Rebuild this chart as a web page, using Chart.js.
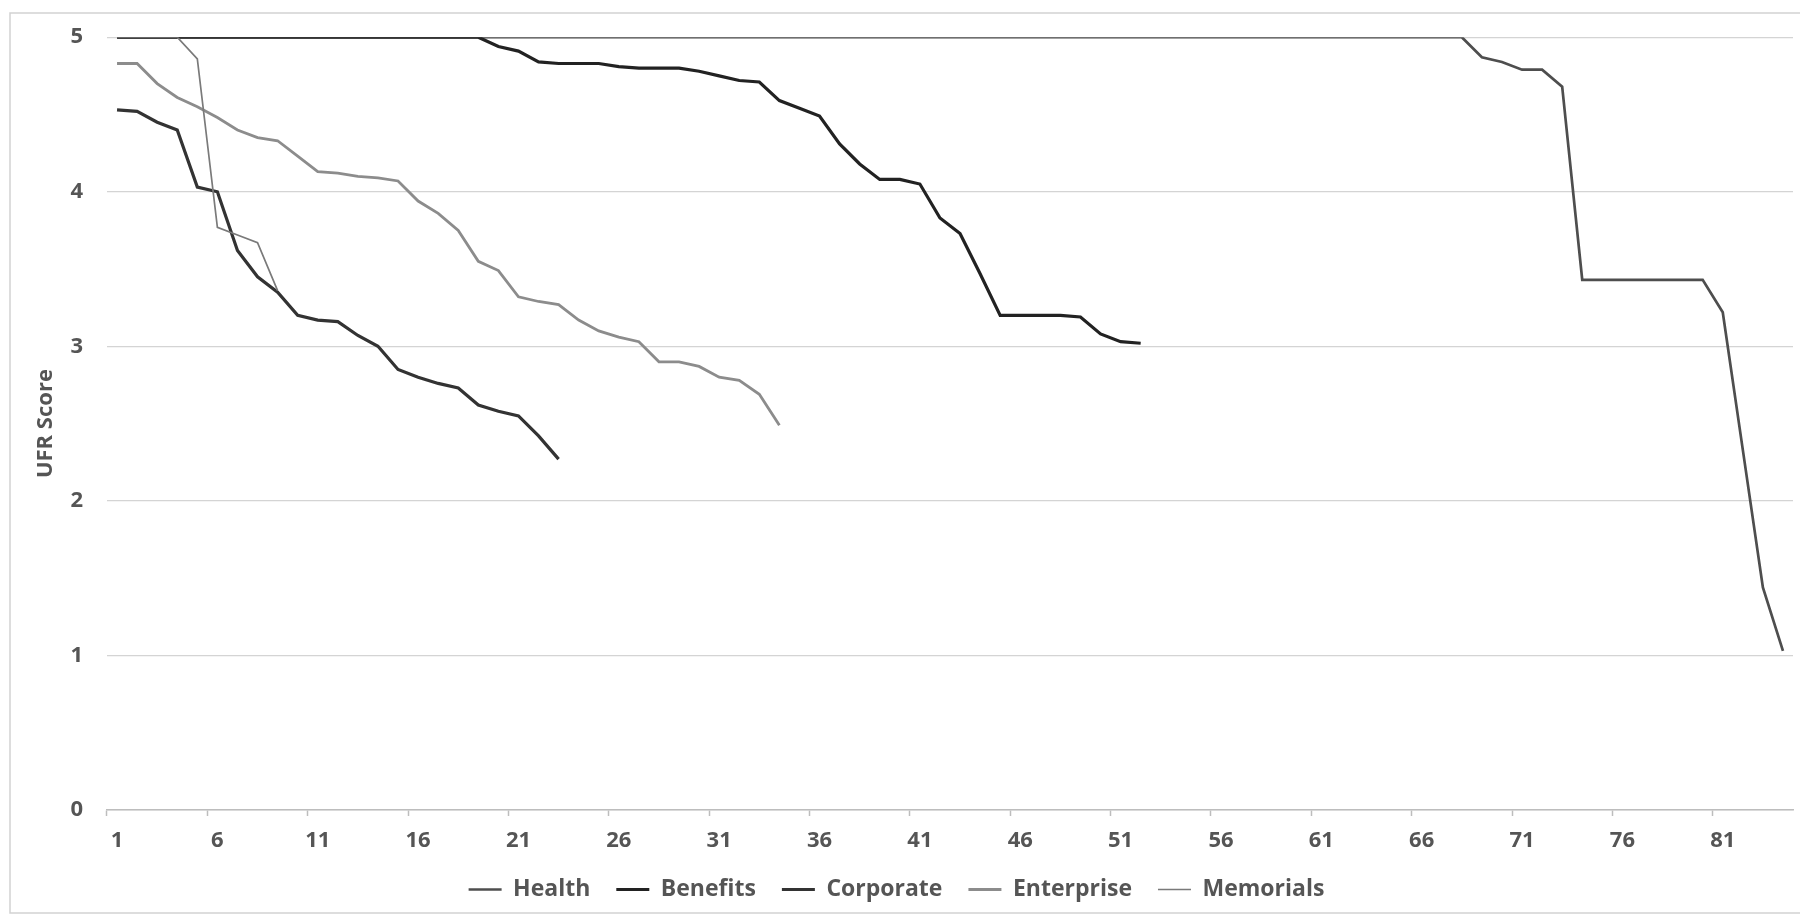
<!DOCTYPE html>
<html>
<head>
<meta charset="utf-8">
<script src="https://cdn.jsdelivr.net/npm/chart.js@4/dist/chart.umd.min.js"></script>
<style>
  html, body { margin: 0; padding: 0; background: #fff; overflow: hidden; }
  #wrap { width: 1800px; height: 923px; }
</style>
</head>
<body>
<div id="wrap"><canvas id="ctx" width="1800" height="923"></canvas></div>
<script>
// categories 1..84 (respondent rank)
const categories = [];
for (let i = 1; i <= 84; i++) categories.push(String(i));

const yTicks = [0, 1, 2, 3, 4, 5];

const health = [
  5, 5, 5, 5, 5, 5, 5, 5, 5, 5,
  5, 5, 5, 5, 5, 5, 5, 5, 5, 5,
  5, 5, 5, 5, 5, 5, 5, 5, 5, 5,
  5, 5, 5, 5, 5, 5, 5, 5, 5, 5,
  5, 5, 5, 5, 5, 5, 5, 5, 5, 5,
  5, 5, 5, 5, 5, 5, 5, 5, 5, 5,
  5, 5, 5, 5, 5, 5, 5, 5, 4.87, 4.84,
  4.79, 4.79, 4.68, 3.43, 3.43, 3.43, 3.43, 3.43, 3.43, 3.43,
  3.22, 2.33, 1.44, 1.03
];
const benefits = [
  5, 5, 5, 5, 5, 5, 5, 5, 5, 5,
  5, 5, 5, 5, 5, 5, 5, 5, 5, 4.94,
  4.91, 4.84, 4.83, 4.83, 4.83, 4.81, 4.8, 4.8, 4.8, 4.78,
  4.75, 4.72, 4.71, 4.59, 4.54, 4.49, 4.31, 4.18, 4.08, 4.08,
  4.05, 3.83, 3.73, 3.47, 3.2, 3.2, 3.2, 3.2, 3.19, 3.08,
  3.03, 3.02
];
const corporate = [
  4.53, 4.52, 4.45, 4.4, 4.03, 4.0, 3.62, 3.45, 3.35, 3.2,
  3.17, 3.16, 3.07, 3.0, 2.85, 2.8, 2.76, 2.73, 2.62, 2.58,
  2.55, 2.42, 2.27
];
const enterprise = [
  4.83, 4.83, 4.7, 4.61, 4.55, 4.48, 4.4, 4.35, 4.33, 4.23,
  4.13, 4.12, 4.1, 4.09, 4.07, 3.94, 3.86, 3.75, 3.55, 3.49,
  3.32, 3.29, 3.27, 3.17, 3.1, 3.06, 3.03, 2.9, 2.9, 2.87,
  2.8, 2.78, 2.69, 2.49
];
const memorials = [5, 5, 5, 5, 4.86, 3.77, 3.72, 3.67, 3.36];

const textGrey = "#555555";

function series(label, data, color, width, order) {
  return {
    label: label,
    data: data,
    borderColor: color,
    backgroundColor: color,
    borderWidth: width,
    pointRadius: 0,
    pointHoverRadius: 0,
    pointBorderWidth: width,
    pointStyle: "line",
    tension: 0,
    fill: false,
    order: order
  };
}

// white page + light frame like the pasted Excel chart
const framePlugin = {
  id: "frame",
  beforeDraw(chart) {
    const c = chart.ctx;
    c.save();
    c.fillStyle = "#ffffff";
    c.fillRect(0, 0, chart.width, chart.height);
    c.strokeStyle = "#d2d2d2";
    c.lineWidth = 1.5;
    c.strokeRect(10, 13, chart.width + 20, 900);
    c.restore();
  }
};

const ctx = document.getElementById("ctx");

const chart = new Chart(ctx, {
  type: "line",
  data: {
    labels: categories,
    datasets: [
      series("Health", health, "#4e4e4e", 2.7, 5),
      series("Benefits", benefits, "#222222", 3.2, 4),
      series("Corporate", corporate, "#333333", 3.2, 3),
      series("Enterprise", enterprise, "#8c8c8c", 2.8, 2),
      series("Memorials", memorials, "#7a7a7a", 1.7, 1)
    ]
  },
  options: {
    responsive: false,
    animation: false,
    devicePixelRatio: 1,
    layout: {
      padding: { top: 37, left: 0, right: 7, bottom: 12 }
    },
    plugins: {
      legend: {
        position: "bottom",
        labels: {
          usePointStyle: true,
          pointStyleWidth: 33,
          padding: 26,
          color: textGrey,
          font: { family: "'Open Sans'", size: 23, weight: "bold" },
          sort: (a, b) => a.datasetIndex - b.datasetIndex
        }
      },
      tooltip: { enabled: false }
    },
    scales: {
      x: {
        type: "category",
        offset: true,
        afterFit: (scale) => { scale.height = 42; },
        grid: {
          offset: true,
          drawOnChartArea: false,
          drawTicks: true,
          tickLength: 6,
          tickWidth: 1.5,
          tickColor: (c) => (c.index % 5 === 0 ? "#bdbdbd" : "rgba(0,0,0,0)")
        },
        border: { display: true, color: "#bdbdbd", width: 1.5 },
        ticks: {
          autoSkip: false,
          maxRotation: 0,
          padding: 12,
          color: textGrey,
          font: { family: "'Open Sans'", size: 22, weight: "bold" },
          callback: function (value, index) {
            return index % 5 === 0 ? categories[index] : "";
          }
        }
      },
      y: {
        min: yTicks[0],
        max: yTicks[yTicks.length - 1],
        afterFit: (scale) => { scale.width = 107; },
        afterBuildTicks: (scale) => { scale.ticks = yTicks.map(v => ({ value: v })); },
        grid: {
          color: "#d4d4d4",
          lineWidth: 1.3,
          drawTicks: false
        },
        border: { display: false },
        ticks: {
          padding: 24,
          color: textGrey,
          font: { family: "'Open Sans'", size: 22, weight: "bold" }
        },
        title: {
          display: true,
          text: "UFR Score",
          color: textGrey,
          font: { family: "'Open Sans'", size: 22, weight: "bold" },
          padding: { top: 33, bottom: 0 }
        }
      }
    }
  },
  plugins: [framePlugin]
});
</script>
</body>
</html>
